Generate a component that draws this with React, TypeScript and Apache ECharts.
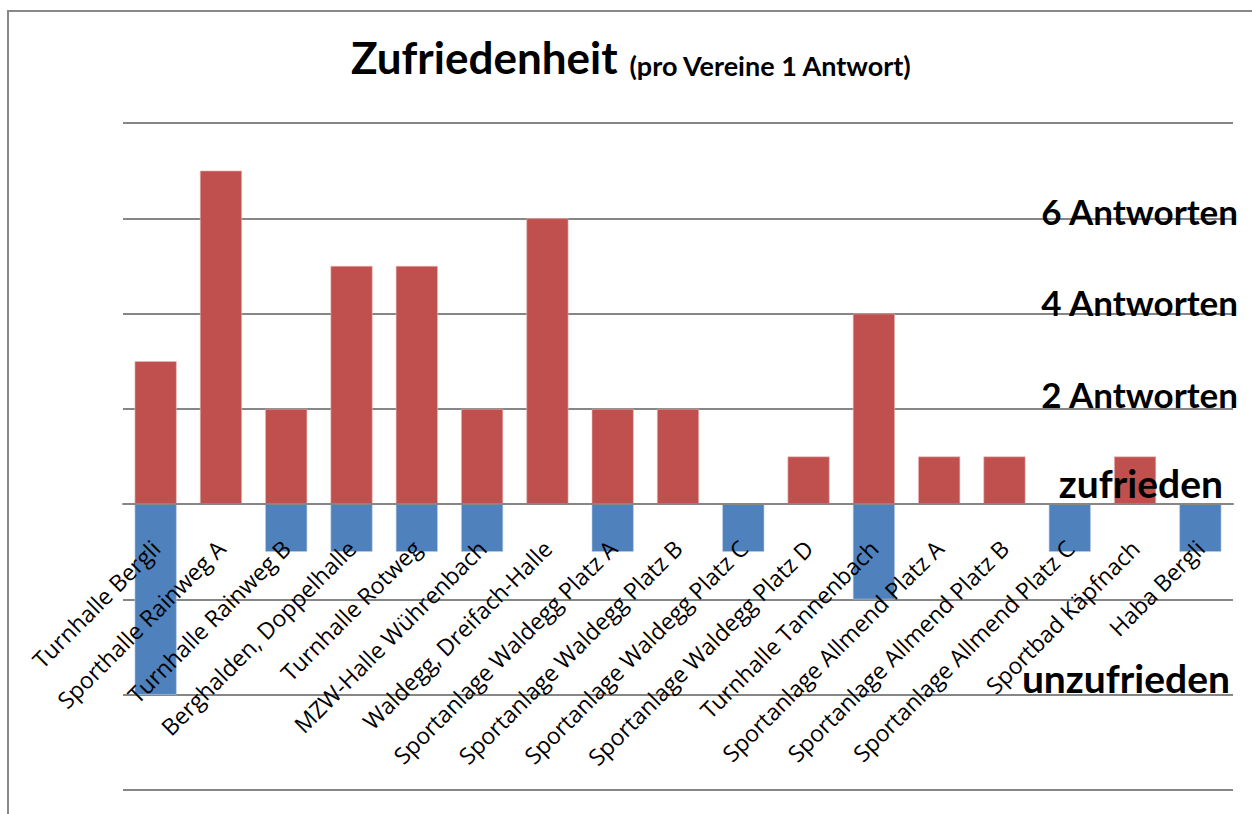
import React, { useEffect, useRef } from "react";
import * as echarts from "echarts";

const categories = [
  "Turnhalle Bergli",
  "Sporthalle Rainweg A",
  "Turnhalle Rainweg B",
  "Berghalden, Doppelhalle",
  "Turnhalle Rotweg",
  "MZW-Halle Wührenbach",
  "Waldegg, Dreifach-Halle",
  "Sportanlage Waldegg Platz A",
  "Sportanlage Waldegg Platz B",
  "Sportanlage Waldegg Platz C",
  "Sportanlage Waldegg Platz D",
  "Turnhalle Tannenbach",
  "Sportanlage Allmend Platz A",
  "Sportanlage Allmend Platz B",
  "Sportanlage Allmend Platz C",
  "Sportbad Käpfnach",
  "Haba Bergli",
];

const zufrieden = [3, 7, 2, 5, 5, 2, 6, 2, 2, 0, 1, 4, 1, 1, 0, 1, 0];
const unzufrieden = [-4, 0, -1, -1, -1, -1, 0, -1, 0, -1, 0, -2, 0, 0, -1, 0, -1];

const yMin = -6;
const yMax = 8;
const yInterval = 2;

const annotations = [
  { text: "6 Antworten", y: 211, right: 1238, size: 35 },
  { text: "4 Antworten", y: 302, right: 1238, size: 35 },
  { text: "2 Antworten", y: 394, right: 1238, size: 35 },
  { text: "zufrieden", y: 483, right: 1223, size: 39 },
  { text: "unzufrieden", y: 678, right: 1230, size: 39 },
];

const BOLD_FONT = "Lato";
const LABEL_FONT = "Open Sans";

const GRID_TOP = 123;
const GRID_BOTTOM_PX = 790;
const HEIGHT = 814;

export default function App() {
  const ref = useRef<HTMLDivElement>(null);
  useEffect(() => {
    document.body.style.margin = "0";
    if (!ref.current) return;
    const chart = echarts.init(ref.current, undefined, { renderer: "svg" });
    // pixel y of the zero value, derived from the axis extent
    const zeroY = GRID_TOP + ((yMax - 0) / (yMax - yMin)) * (GRID_BOTTOM_PX - GRID_TOP);
    chart.setOption({
      animation: false,
      backgroundColor: "#ffffff",
      title: {
        left: 346,
        top: 22,
        text: "{a|Zufriedenheit}{b|(pro Vereine 1 Antwort)}",
        textStyle: {
          rich: {
            a: {
              fontFamily: BOLD_FONT,
              fontWeight: "bold",
              fontSize: 44,
              color: "#000",
              verticalAlign: "bottom",
              lineHeight: 52,
            },
            b: {
              fontFamily: BOLD_FONT,
              fontWeight: "bold",
              fontSize: 27,
              color: "#000",
              verticalAlign: "bottom",
              lineHeight: 46,
              padding: [0, 0, 0, 12],
            },
          },
        },
      },
      grid: {
        left: 123,
        right: 19,
        top: GRID_TOP,
        bottom: HEIGHT - GRID_BOTTOM_PX,
        containLabel: false,
        outerBoundsMode: "none",
      },
      xAxis: {
        type: "category",
        data: categories,
        z: 10,
        position: "bottom",
        offset: -(GRID_BOTTOM_PX - zeroY),
        axisLine: { onZero: false, lineStyle: { color: "#868686", width: 2 } },
        axisTick: { show: false },
        axisLabel: {
          interval: 0,
          rotate: 45,
          margin: 40,
          fontFamily: LABEL_FONT,
          fontSize: 23,
          color: "#000",
        },
      },
      yAxis: {
        type: "value",
        min: yMin,
        max: yMax,
        interval: yInterval,
        axisLabel: { show: false },
        axisLine: { show: false },
        axisTick: { show: false },
        splitLine: { lineStyle: { color: "#868686", width: 2 } },
      },
      series: [
        {
          name: "zufrieden",
          type: "bar",
          data: zufrieden,
          barWidth: 42,
          barGap: "-100%",
          itemStyle: { color: "#C0504D", borderColor: "#E6B9B8", borderWidth: 0.6 },
        },
        {
          name: "unzufrieden",
          type: "bar",
          data: unzufrieden,
          barWidth: 42,
          itemStyle: { color: "#4F81BD", borderColor: "#B9CDE5", borderWidth: 0.6 },
        },
      ],
      graphic: [
        {
          type: "polyline",
          shape: { points: [[8, 814], [8, 11], [1252, 11]] },
          style: { stroke: "#888888", lineWidth: 2, fill: null },
          z: 20,
        },
        ...annotations.map((a) => ({
          type: "text",
          x: a.right,
          y: a.y,
          z: 30,
          style: {
            text: a.text,
            fill: "#000",
            font: `bold ${a.size}px ${BOLD_FONT}`,
            textAlign: "right",
            textVerticalAlign: "middle",
          },
        })),
      ],
    });
    return () => chart.dispose();
  }, []);
  return <div ref={ref} style={{ width: 1252, height: 814 }} />;
}
